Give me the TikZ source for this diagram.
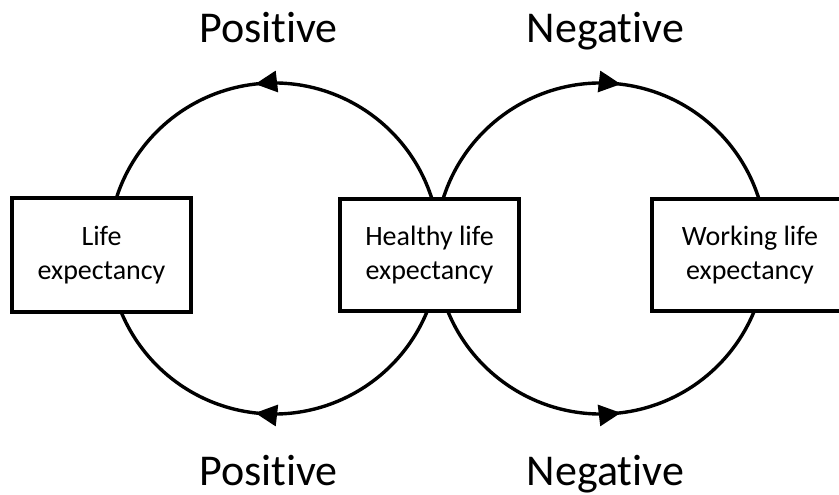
\documentclass[tikz,border=0pt]{standalone}
\usepackage{fontspec}
\setmainfont{Carlito}[Ligatures={CommonOff,NoRequired}]
\usetikzlibrary{arrows.meta,decorations.markings}
\tikzset{
  box/.style={draw=black, line width=3.8pt, fill=white, align=center,
    font=\fontsize{28}{34.5}\selectfont, inner sep=0pt},
  loop/.style={draw=black, line width=3.4pt},
  tipmark/.style={postaction={decorate, decoration={markings,
    mark=at position #1 with {\arrow{Triangle[length=22pt,width=21pt]}}}}},
  lab/.style={font=\fontsize{44}{50}\selectfont, anchor=base, inner sep=0pt}
}
\begin{document}
\begin{tikzpicture}[x=1pt,y=1pt]
\useasboundingbox (0,0) rectangle (839,495);
\clip (0,0) rectangle (839,495);
\coordinate (cL) at (274,246.5);
\coordinate (cR) at (601,246.5);
% loops
\draw[loop, tipmark=0.541] (cL) ++(10:165.5) arc[start angle=10, end angle=170, radius=165.5];
\draw[loop, tipmark=0.541] (cL) ++(-10:165.5) arc[start angle=-10, end angle=-170, radius=165.5];
\draw[loop, tipmark=0.543] (cR) ++(170:165.5) arc[start angle=170, end angle=10, radius=165.5];
\draw[loop, tipmark=0.543] (cR) ++(-170:165.5) arc[start angle=-170, end angle=-10, radius=165.5];
% boxes
\node[box, minimum width=179.2pt, minimum height=114.2pt] (le) at (101.5,240) {Life\\expectancy};
\node[box, minimum width=179.2pt, minimum height=112.2pt] (hle) at (429.5,240) {Healthy life\\expectancy};
\node[box, minimum width=196.2pt, minimum height=112.2pt] (wle) at (750,240) {Working life\\expectancy};
% labels
\node[lab] (p1) at (268.5,452) {Positive};
\node[lab] (n1) at (605.5,452) {Negative};
\node[lab] (p2) at (268.5,9.5) {Positive};
\node[lab] (n2) at (605.5,9.5) {Negative};
\end{tikzpicture}
\end{document}
